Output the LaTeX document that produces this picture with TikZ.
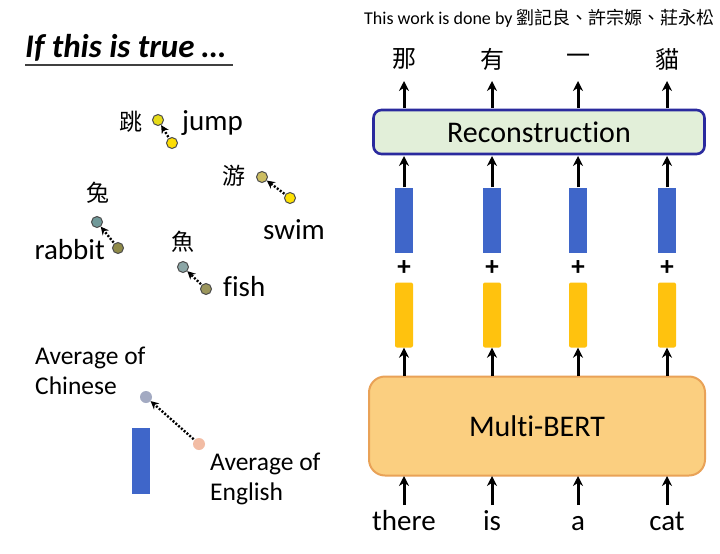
\documentclass[tikz,border=0pt]{standalone}
\usepackage{fontspec}
\setmainfont{Carlito}[Ligatures=NoCommon]
\newfontfamily\cjk{Noto Sans CJK TC}
\usetikzlibrary{arrows.meta}
\definecolor{barblue}{HTML}{3F66C9}
\definecolor{baryellow}{HTML}{FFC20E}
\definecolor{recfill}{HTML}{E2EFD9}
\definecolor{recline}{HTML}{2A2A9E}
\definecolor{bertfill}{HTML}{FBCF80}
\definecolor{bertline}{HTML}{E9A257}
\definecolor{avgc}{HTML}{A3AAC2}
\definecolor{avge}{HTML}{F2BCA4}
\tikzset{
  txt/.style={inner sep=0pt, font=\fontsize{29}{32}\selectfont},
  cj/.style={inner sep=0pt, font=\cjk\fontsize{23}{26}\selectfont},
  dotc/.style={circle, draw=black!70, line width=1pt, minimum size=11pt, inner sep=0pt},
  darr/.style={-{Stealth[length=8pt,width=8pt]}, line width=2.4pt, dash pattern=on 2pt off 1.7pt, shorten <=1pt, shorten >=0pt},
  uarr/.style={-{Stealth[length=10pt,width=10pt]}, line width=3pt},
  bluebar/.style={draw=none, fill=barblue, minimum width=18pt, minimum height=65pt, inner sep=0pt},
  yelbar/.style={draw=none, fill=baryellow, rounded corners=2pt, minimum width=18pt, minimum height=65pt, inner sep=0pt},
  plus/.style={inner sep=0pt, font=\bfseries\fontsize{27}{28}\selectfont},
}
\begin{document}
\begin{tikzpicture}[x=1pt,y=-1pt]
\useasboundingbox (0,0) rectangle (720,554);
\fill[white] (0,0) rectangle (720,554);
% title
\node[inner sep=0pt, anchor=base west, font=\bfseries\itshape\fontsize{33}{36}\selectfont] (title) at (25,57) {If this is true …};
\draw[line width=1.2pt, black!75] (25,65) -- (233,65);
% jump
\node[cj] (tiao) at (131,122) {跳};
\node[dotc, fill=yellow!75!olive!90] (jz) at (158,120) {};
\node[dotc, fill=yellow!80!orange] (je) at (172,143) {};
\node[txt, anchor=west] (jump) at (182,123) {jump};
\draw[darr] (je) -- (jz);
% rabbit
\node[cj] (tu) at (98,193) {兔};
\node[dotc, fill=teal!40!gray!80] (rz) at (97,222) {};
\node[dotc, fill=olive!50!gray] (re) at (118,248) {};
\node[txt, anchor=east] (rabbit) at (105,250) {rabbit};
\draw[darr] (re) -- (rz);
% fish
\node[cj] (yu) at (183,242) {魚};
\node[dotc, fill=teal!30!gray!70] (fz) at (183,267) {};
\node[dotc, fill=olive!45!gray!90] (fe) at (206,289) {};
\node[txt, anchor=west] (fish) at (223,287) {fish};
\draw[darr] (fe) -- (fz);
% swim
\node[cj] (you) at (234,176) {游};
\node[dotc, fill=pink!40!yellow!60!gray] (sz) at (262,177) {};
\node[dotc, fill=yellow!85!orange] (se) at (290,198) {};
\node[txt] (swim) at (294,230) {swim};
\draw[darr] (se) -- (sz);
% averages
\node[inner sep=0pt, anchor=north west, align=left, font=\fontsize{25.5}{30}\selectfont] (avgc) at (35,347) {Average of\\Chinese};
\node[circle, fill=avgc, minimum size=12pt, inner sep=0pt] (cz) at (146,397) {};
\node[circle, fill=avge, minimum size=12pt, inner sep=0pt] (ce) at (199,444) {};
\node[inner sep=0pt, anchor=north west, align=left, font=\fontsize{25.5}{30}\selectfont] (avge) at (210,453) {Average of\\English};
\draw[darr] (ce) -- (cz);
\node[bluebar, minimum height=66pt] (diff) at (141,461) {};
% right side
\node[inner sep=0pt, anchor=base west, font=\fontsize{18}{20}\selectfont] (credit) at (364,24) {This work is done by {\cjk 劉記良、許宗嫄、莊永松}};
\node[draw=recline, fill=recfill, line width=2.6pt, rounded corners=8pt, minimum width=331pt, minimum height=44pt, inner sep=0pt, font=\fontsize{30}{32}\selectfont] (rec) at (539,132) {Reconstruction};
\node[draw=bertline, fill=bertfill, line width=2pt, rounded corners=16pt, minimum width=336pt, minimum height=99pt, inner sep=0pt, font=\fontsize{30}{32}\selectfont] (bert) at (537,426) {Multi-BERT};
\foreach \i/\x/\zh/\en in {1/404/那/there, 2/492/有/is, 3/578/一/a, 4/667/貓/cat}{
  \node[cj, font=\cjk\fontsize{24}{26}\selectfont] (zh\i) at (\x,59) {\zh};
  \coordinate (rt\i) at (\x,108);
  \coordinate (rb\i) at (\x,156);
  \node[bluebar] (b\i) at (\x,220) {};
  \node[plus] (p\i) at (\x,268) {+};
  \node[yelbar] (y\i) at (\x,315) {};
  \coordinate (bt\i) at (\x,376);
  \coordinate (bb\i) at (\x,476);
  \node[txt, anchor=base] (en\i) at (\x,530) {\en};
  \coordinate (up\i) at (\x,81);
  \coordinate (wd\i) at (\x,505);
  \draw[uarr] (rt\i) -- (up\i);
  \draw[uarr] (b\i.north) -- (rb\i);
  \draw[uarr] (bt\i) -- (y\i.south);
  \draw[uarr] (wd\i) -- (bb\i);
}
\end{tikzpicture}
\end{document}
